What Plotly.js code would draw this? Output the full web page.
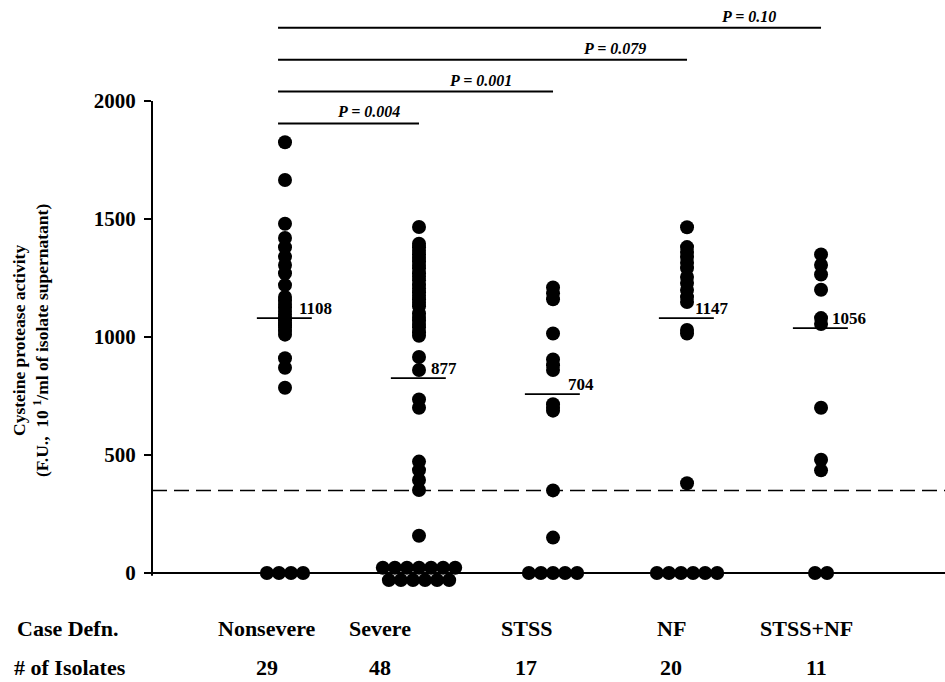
<!DOCTYPE html>
<html>
<head>
<meta charset="utf-8">
<script src="https://cdn.plot.ly/plotly-3.0.1.min.js"></script>
<style>html,body{margin:0;padding:0;background:#fff;}#chart{width:945px;height:682px;}</style>
</head>
<body>
<div id="chart"></div>
<script>
// ---- data ----
const groups = ['Nonsevere', 'Severe', 'STSS', 'NF', 'STSS+NF'];
const isolateCounts = [29, 48, 17, 20, 11];
const meanLabels = [1108, 877, 704, 1147, 1056];
const meanLinePos = [1080, 826, 758, 1080, 1038];
const thresholdValue = 350;

const nonsevereValues = [1825, 1665, 1480, 1420, 1380, 1340, 1305, 1270, 1220,
  1170, 1155, 1140, 1125, 1110, 1095, 1080, 1070, 1060, 1050, 1040, 1025, 1010,
  910, 870, 785, 0, 0, 0, 0];
const severeValues = [1466, 1395, 1380, 1365, 1350, 1335, 1320, 1305, 1290, 1270,
  1255, 1240, 1220, 1205, 1190, 1175, 1160, 1145, 1130,
  1100, 1085, 1070, 1055, 1040, 1020, 1005,
  915, 860, 735, 700, 472, 436, 394, 352, 158,
  0, 0, 0, 0, 0, 0, 0, 0, 0, 0, 0, 0, 0];
const stssValues = [1210, 1185, 1160, 1015, 905, 880, 860, 715, 700, 688, 350, 150,
  0, 0, 0, 0, 0];
const nfValues = [1465, 1381, 1360, 1339, 1315, 1292, 1254, 1229, 1199, 1169, 1148,
  1030, 1015, 380, 0, 0, 0, 0, 0, 0];
const stssNfValues = [1350, 1305, 1265, 1200, 1080, 1055, 700, 480, 435, 0, 0];

const comparisonTargets = ['Severe', 'STSS', 'NF', 'STSS+NF'];
const comparisonP = ['0.004', '0.001', '0.079', '0.10'];

// ---- build chart ----
const allValues = [nonsevereValues, severeValues, stssValues, nfValues, stssNfValues];
const serif = 'Liberation Serif, Times New Roman, serif';
const dotStep = 0.09;         // horizontal spacing of tied zero dots (axis units)
const maxRow = 7;

const traces = allValues.map((vals, gi) => {
  const col = gi + 1;
  const xs = [], ys = [], hv = [];
  const nz = vals.filter(v => v !== 0);
  nz.forEach(v => { xs.push(col); ys.push(v); hv.push(v); });
  const zeros = vals.filter(v => v === 0);
  const n = zeros.length;
  let rows;
  if (n <= maxRow) rows = [n];
  else rows = [Math.ceil(n / 2), Math.floor(n / 2)];
  const rowY = rows.length === 1 ? [0] : [22, -30];
  rows.forEach((m, ri) => {
    for (let j = 0; j < m; j++) {
      xs.push(col + (j - (m - 1) / 2) * dotStep);
      ys.push(rowY[ri]);
      hv.push(0);
    }
  });
  return {
    type: 'scatter', mode: 'markers', name: groups[gi],
    x: xs, y: ys, customdata: hv,
    hovertemplate: groups[gi] + ': %{customdata}<extra></extra>',
    marker: { color: '#000', size: 14, line: { width: 0 } },
    cliponaxis: false
  };
});

const shapes = [];
// y axis line (stops at 2000)
shapes.push({ type: 'line', xref: 'paper', yref: 'y', x0: 0, x1: 0, y0: -12, y1: 2000,
  line: { color: '#000', width: 2 } });
// threshold dashed line
shapes.push({ type: 'line', xref: 'paper', yref: 'y', x0: 0, x1: 1, y0: thresholdValue, y1: thresholdValue,
  line: { color: '#000', width: 1.5, dash: '15px,7px' } });
// mean lines
meanLinePos.forEach((m, i) => {
  shapes.push({ type: 'line', xref: 'x', yref: 'y', x0: i + 1 - 0.21, x1: i + 1 + 0.2, y0: m, y1: m,
    line: { color: '#000', width: 1.8 } });
});

const annotations = [];
// mean labels
const meanLabelShift = [12, 10, 13, 6, 9];
meanLabels.forEach((m, i) => {
  annotations.push({ xref: 'x', yref: 'y', x: i + 1, y: meanLinePos[i], xshift: meanLabelShift[i], yshift: -2,
    xanchor: 'left', yanchor: 'bottom', showarrow: false, text: '<b>' + m + '</b>',
    font: { family: serif, size: 17, color: '#000' } });
});

// comparison brackets
const pLabelX = [1.62, 2.46, 3.46, 4.455];
comparisonTargets.forEach((t, k) => {
  const yv = 1905 + k * 135;
  const xe = groups.indexOf(t) + 1;
  shapes.push({ type: 'line', xref: 'x', yref: 'y', x0: 0.948, x1: xe, y0: yv, y1: yv,
    line: { color: '#000', width: 2 } });
  annotations.push({ xref: 'x', yref: 'y', x: pLabelX[k], y: yv, yshift: 1, xanchor: 'center', yanchor: 'bottom',
    showarrow: false, text: '<b><i>P = ' + comparisonP[k] + '</i></b>',
    font: { family: serif, size: 16, color: '#000' } });
});

// bottom rows
const rowY1 = -0.049, rowY2 = -0.115;
annotations.push({ xref: 'paper', yref: 'paper', x: -0.106, y: rowY1, xanchor: 'center', yanchor: 'middle',
  showarrow: false, text: '<b>Case Defn.</b>', font: { family: serif, size: 22, color: '#000' } });
annotations.push({ xref: 'paper', yref: 'paper', x: -0.104, y: rowY2, xanchor: 'center', yanchor: 'middle',
  showarrow: false, text: '<b># of Isolates</b>', font: { family: serif, size: 22, color: '#000' } });
const groupShift = [-18, -39, -27, -16, -15];
const countShift = [-18, -39, -27, -16, -5];
groups.forEach((g, i) => {
  annotations.push({ xref: 'x', yref: 'paper', x: i + 1, xshift: groupShift[i], y: rowY1,
    xanchor: 'center', yanchor: 'middle', showarrow: false, text: '<b>' + g + '</b>',
    font: { family: serif, size: 22, color: '#000' } });
  annotations.push({ xref: 'x', yref: 'paper', x: i + 1, xshift: countShift[i], y: rowY2,
    xanchor: 'center', yanchor: 'middle', showarrow: false, text: '<b>' + isolateCounts[i] + '</b>',
    font: { family: serif, size: 22, color: '#000' } });
});

// y axis title
annotations.push({ xref: 'paper', yref: 'paper', x: -0.153, y: 0.44, xanchor: 'center', yanchor: 'middle',
  textangle: -90, showarrow: false,
  text: '<b>Cysteine protease activity</b><br><b>(F.U.,  10 <sup>1</sup>/ml of isolate supernatant)</b>',
  font: { family: serif, size: 17.5, color: '#000' } });

const layout = {
  width: 945, height: 682,
  margin: { l: 152, r: 0, t: 10, b: 82, pad: 0 },
  paper_bgcolor: '#fff', plot_bgcolor: '#fff',
  showlegend: false,
  xaxis: { range: [0.0075, 5.925], visible: false, fixedrange: true },
  yaxis: {
    range: [-114.4, 2385.6], showgrid: false, showline: false,
    zeroline: true, zerolinecolor: '#000', zerolinewidth: 2,
    tickvals: [0, 500, 1000, 1500, 2000], ticktext: ['0', '500', '1000', '1500', '2000'],
    ticks: 'outside', ticklen: 7, tickwidth: 2, tickcolor: '#000',
    ticklabelstandoff: 4,
    tickfont: { family: serif, size: 21, color: '#000', weight: 'bold' },
    fixedrange: true
  },
  shapes: shapes,
  annotations: annotations
};

Plotly.newPlot('chart', traces, layout, { displayModeBar: false, staticPlot: false });
</script>
</body>
</html>
